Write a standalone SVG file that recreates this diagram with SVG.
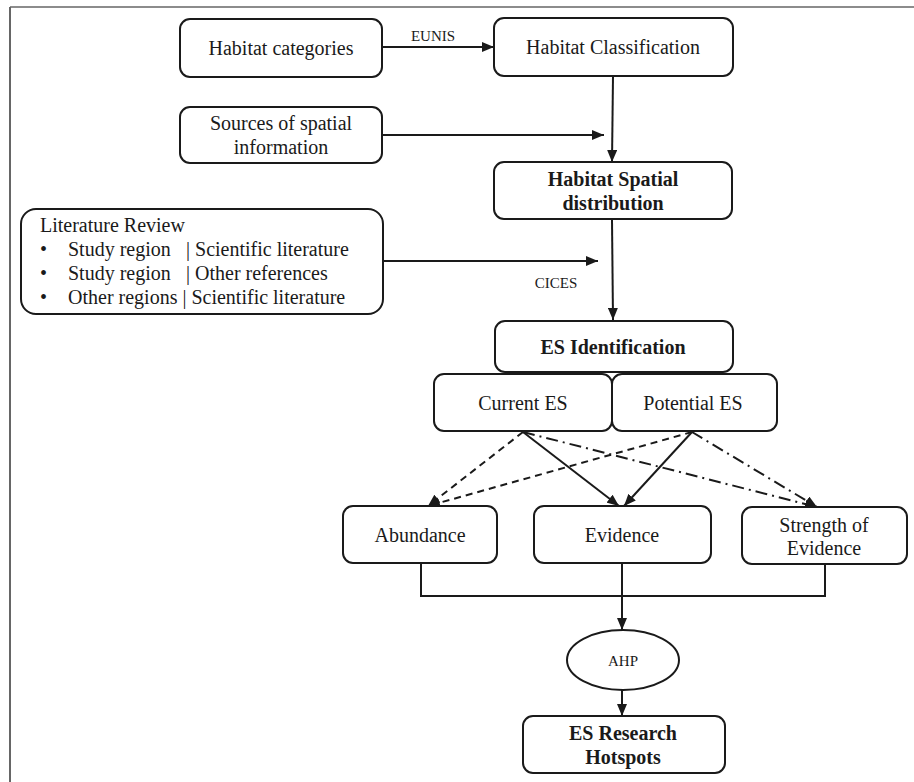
<svg xmlns="http://www.w3.org/2000/svg" width="914" height="782" viewBox="0 0 914 782">
<style>
.box{fill:#fff;stroke:#1a1a1a;stroke-width:2}
.t{font-family:"Liberation Serif","Times New Roman",serif;font-size:20px;fill:#1a1a1a;text-anchor:middle}
.b{font-weight:bold}
.s{font-size:15px}
.l{text-anchor:start}
.c{fill:none;stroke:#1a1a1a;stroke-width:2}
.dash{stroke-dasharray:7,5}
.dd{stroke-dasharray:12,5,2,5}
</style>
<defs>
<marker id="ah" viewBox="0 0 12 10" refX="12" refY="5" markerWidth="12" markerHeight="10" markerUnits="userSpaceOnUse" orient="auto">
<path d="M0,0 L12,5 L0,10 Z" fill="#1a1a1a"/>
</marker>
</defs>
<rect width="914" height="782" fill="#fff"/>
<g id="frame">
<line x1="10" y1="7" x2="914" y2="7" stroke="#666" stroke-width="1.5"/>
<line x1="10" y1="7" x2="10" y2="782" stroke="#666" stroke-width="2"/>
</g>
<g id="connectors">
<line class="c" x1="382" y1="47" x2="494" y2="47" marker-end="url(#ah)"/>
<line class="c" x1="613" y1="76" x2="612" y2="162" marker-end="url(#ah)"/>
<line class="c" x1="382" y1="135" x2="604" y2="135" marker-end="url(#ah)"/>
<line class="c" x1="383" y1="261" x2="598" y2="261" marker-end="url(#ah)"/>
<line class="c" x1="612" y1="220" x2="613" y2="320" marker-end="url(#ah)"/>
<line class="c dash" x1="523" y1="432" x2="428" y2="506" marker-end="url(#ah)"/>
<line class="c dash" x1="692" y1="432" x2="428" y2="506" marker-end="url(#ah)"/>
<line class="c" x1="523" y1="432" x2="619" y2="506" marker-end="url(#ah)"/>
<line class="c" x1="692" y1="432" x2="624" y2="506" marker-end="url(#ah)"/>
<line class="c dd" x1="523" y1="432" x2="817" y2="507" marker-end="url(#ah)"/>
<line class="c dd" x1="692" y1="432" x2="817" y2="507" marker-end="url(#ah)"/>
<polyline class="c" points="421,564 421,596 825,596 825,564"/>
<line class="c" x1="622" y1="564" x2="622" y2="596"/>
<line class="c" x1="622" y1="596" x2="622" y2="630" stroke-width="3" marker-end="url(#ah)"/>
<line class="c" x1="622" y1="690" x2="622" y2="716" marker-end="url(#ah)"/>
<text class="t s" x="433" y="41">EUNIS</text>
<text class="t s" x="556" y="288">CICES</text>
</g>
<g id="habitat-categories">
<rect class="box" x="180" y="19" width="202" height="58" rx="10"/>
<text class="t" x="281" y="55">Habitat categories</text>
</g>
<g id="habitat-classification">
<rect class="box" x="494" y="18" width="239" height="58" rx="10"/>
<text class="t" x="613" y="54">Habitat Classification</text>
</g>
<g id="sources">
<rect class="box" x="180" y="107" width="202" height="56" rx="10"/>
<text class="t" x="281" y="130">Sources of spatial</text>
<text class="t" x="281" y="154">information</text>
</g>
<g id="habitat-spatial">
<rect class="box" x="494" y="162" width="238" height="57" rx="10"/>
<text class="t b" x="613" y="186">Habitat Spatial</text>
<text class="t b" x="613" y="210">distribution</text>
</g>
<g id="literature">
<rect class="box" x="21" y="209" width="362" height="105" rx="15"/>
<text class="t l" x="40" y="232">Literature Review</text>
<text class="t l" x="40" y="256">•</text>
<text class="t l" x="68" y="256">Study region</text>
<text class="t l" x="186" y="256">| Scientific literature</text>
<text class="t l" x="40" y="280">•</text>
<text class="t l" x="68" y="280">Study region</text>
<text class="t l" x="186" y="280">| Other references</text>
<text class="t l" x="40" y="304">•</text>
<text class="t l" x="68" y="304">Other regions | Scientific literature</text>
</g>
<g id="es-identification">
<rect class="box" x="495" y="321" width="238" height="51" rx="10"/>
<text class="t b" x="613" y="354">ES Identification</text>
</g>
<g id="current-es">
<rect class="box" x="434" y="374" width="178" height="57" rx="10"/>
<text class="t" x="523" y="410">Current ES</text>
</g>
<g id="potential-es">
<rect class="box" x="612" y="374" width="165" height="57" rx="10"/>
<text class="t" x="693" y="410">Potential ES</text>
</g>
<g id="abundance">
<rect class="box" x="343" y="506" width="154" height="57" rx="10"/>
<text class="t" x="420" y="542">Abundance</text>
</g>
<g id="evidence">
<rect class="box" x="534" y="506" width="177" height="57" rx="10"/>
<text class="t" x="622" y="542">Evidence</text>
</g>
<g id="strength">
<rect class="box" x="742" y="507" width="165" height="57" rx="10"/>
<text class="t" x="824" y="532">Strength of</text>
<text class="t" x="824" y="555">Evidence</text>
</g>
<g id="ahp">
<ellipse class="box" cx="623" cy="660" rx="56" ry="30"/>
<text class="t s" x="623" y="666">AHP</text>
</g>
<g id="hotspots">
<rect class="box" x="523" y="716" width="202" height="57" rx="10"/>
<text class="t b" x="623" y="740">ES Research</text>
<text class="t b" x="623" y="764">Hotspots</text>
</g>
</svg>
